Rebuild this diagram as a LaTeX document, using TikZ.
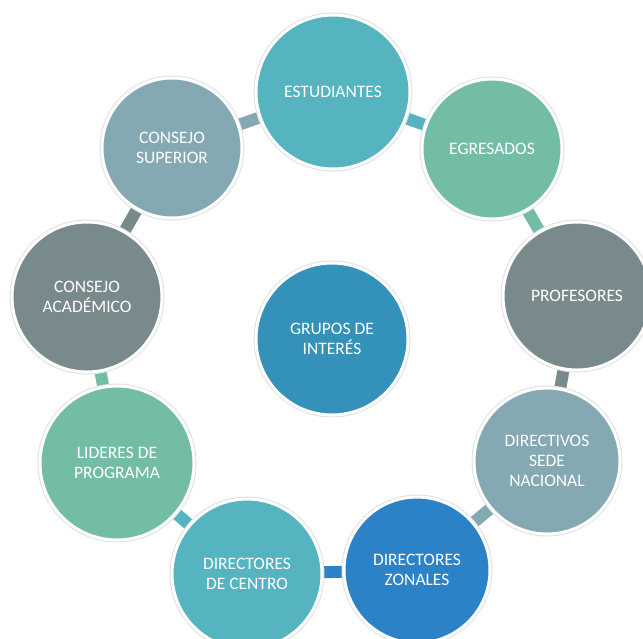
\documentclass[tikz,border=0pt]{standalone}
\usepackage{fontspec}
\setmainfont{Carlito}
\usetikzlibrary{backgrounds}

\definecolor{turquesa}{HTML}{55B4BF}
\definecolor{verdeagua}{HTML}{73BDA6}
\definecolor{grisverde}{HTML}{798A8C}
\definecolor{grisazul}{HTML}{85A9B3}
\definecolor{azulfuerte}{HTML}{2C82C7}
\definecolor{azulcentro}{HTML}{3391BA}

\tikzset{
  grupo/.style={circle, fill=#1, draw=white, line width=3,
    preaction={draw=black!12, line width=5},
    inner sep=0pt, outer sep=0pt, align=center, text=white,
    font=\fontsize{17.5}{20}\selectfont},
  enlace/.style={line width=12, draw=#1}
}

\begin{document}
\begin{tikzpicture}[x=1pt,y=-1pt]
  \useasboundingbox (0,0) rectangle (643,638);

  % The centre
  \node [grupo=azulcentro, minimum size=152] (grupos) at (332,339) {GRUPOS DE\\INTERÉS};

  % The ring, clockwise from the top
  \node [grupo=turquesa, minimum size=154] (estudiantes) at (333,92) {ESTUDIANTES};
  \node [grupo=verdeagua, minimum size=140] (egresados) at (492,149) {EGRESADOS};
  \node [grupo=grisverde, minimum size=148] (profesores) at (577,296) {PROFESORES};
  \node [grupo=grisazul, minimum size=146] (directivos) at (547,461) {DIRECTIVOS\\SEDE\\NACIONAL};
  \node [grupo=azulfuerte, minimum size=146] (zonales) at (417,570) {DIRECTORES\\ZONALES};
  \node [grupo=turquesa, minimum size=150] (centro) at (247,574) {DIRECTORES\\DE CENTRO};
  \node [grupo=verdeagua, minimum size=154] (lideres) at (117,463) {LIDERES DE\\PROGRAMA};
  \node [grupo=grisverde, minimum size=150] (academico) at (87,297) {CONSEJO\\ACADÉMICO};
  \node [grupo=grisazul, minimum size=140] (superior) at (172,148) {CONSEJO\\SUPERIOR};

  % Links between neighbours
  \begin{scope}[on background layer]
    \draw [enlace=turquesa] (estudiantes) -- (egresados);
    \draw [enlace=verdeagua] (egresados) -- (profesores);
    \draw [enlace=grisverde] (profesores) -- (directivos);
    \draw [enlace=grisazul] (directivos) -- (zonales);
    \draw [enlace=azulfuerte] (zonales) -- (centro);
    \draw [enlace=turquesa] (centro) -- (lideres);
    \draw [enlace=verdeagua] (lideres) -- (academico);
    \draw [enlace=grisverde] (academico) -- (superior);
    \draw [enlace=grisazul] (superior) -- (estudiantes);
  \end{scope}
\end{tikzpicture}
\end{document}
